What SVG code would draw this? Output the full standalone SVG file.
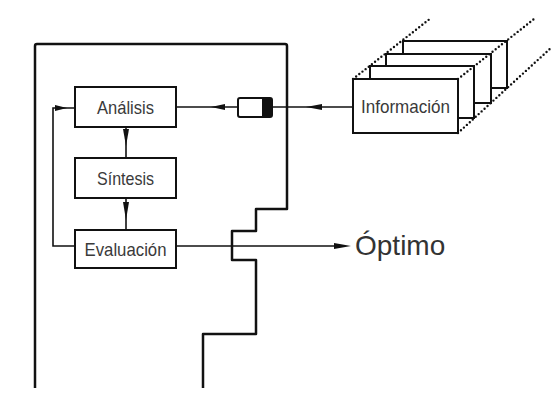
<svg xmlns="http://www.w3.org/2000/svg" width="560" height="394" viewBox="0 0 560 394">
<style>
.box{fill:#fff;stroke:#111;stroke-width:2}
.lbl{font-family:"Liberation Sans",Arial,sans-serif;font-size:19px;fill:#3a3a3a;text-anchor:middle}
.big{font-family:"Liberation Sans",Arial,sans-serif;font-size:28px;fill:#333}
.wire{fill:none;stroke:#111;stroke-width:1.6}
.frame{fill:none;stroke:#111;stroke-width:2.5;stroke-linejoin:round}
.dots{fill:none;stroke:#111;stroke-width:2.4;stroke-dasharray:0 4;stroke-linecap:round}
.head{fill:#111}
</style>
<rect width="560" height="394" fill="#fff"/>
<g id="marco">
<path class="frame" d="M35,388 V46 Q35,44 37,44 H285 Q287,44 287,46 V209 H256 V231 H232 V260 H256 V334 H203 V388"/>
</g>
<g id="connectors">
<path class="wire" d="M176,107 H238"/>
<polygon class="head" points="211,107 225,104 225,110"/>
<path class="wire" d="M272,107 H353"/>
<polygon class="head" points="306,107 322,104 322,110"/>
<path class="wire" d="M126,127 V158"/>
<polygon class="head" points="126,146 123,129 129,129"/>
<path class="wire" d="M126,198 V230"/>
<polygon class="head" points="126,220 123,202 129,202"/>
<path class="wire" d="M75,246 H53 V108 H75"/>
<polygon class="head" points="67,108 55,105 55,111"/>
<path class="wire" d="M176,246 H340"/>
<polygon class="head" points="351,246 334,243 334,249"/>
</g>
<g id="analisis">
<rect class="box" x="75" y="87" width="101" height="40"/>
<text class="lbl" x="125.5" y="114" textLength="57" lengthAdjust="spacingAndGlyphs">Análisis</text>
</g>
<g id="sintesis">
<rect class="box" x="75" y="158" width="101" height="40"/>
<text class="lbl" x="125.5" y="185" textLength="57" lengthAdjust="spacingAndGlyphs">Síntesis</text>
</g>
<g id="evaluacion">
<rect class="box" x="75" y="230" width="101" height="38"/>
<text class="lbl" x="125.5" y="256" textLength="82" lengthAdjust="spacingAndGlyphs">Evaluación</text>
</g>
<g id="filtro">
<rect x="238" y="98" width="34" height="19" rx="2" fill="#fff" stroke="#111" stroke-width="2"/>
<rect x="262" y="98" width="10" height="19" fill="#111"/>
</g>
<g id="informacion">
<rect class="box" x="403" y="41" width="104" height="47"/>
<rect class="box" x="386" y="54" width="105" height="49"/>
<rect class="box" x="370" y="66" width="104" height="52"/>
<rect class="box" x="353" y="79" width="105" height="54"/>
<path class="dots" d="M353,79 L431,18 M458,79 L534,19 M458,133 L552,47"/>
<text class="lbl" x="405.5" y="113" textLength="89" lengthAdjust="spacingAndGlyphs">Información</text>
</g>
<g id="optimo">
<text class="big" x="355" y="255">Óptimo</text>
</g>
</svg>
